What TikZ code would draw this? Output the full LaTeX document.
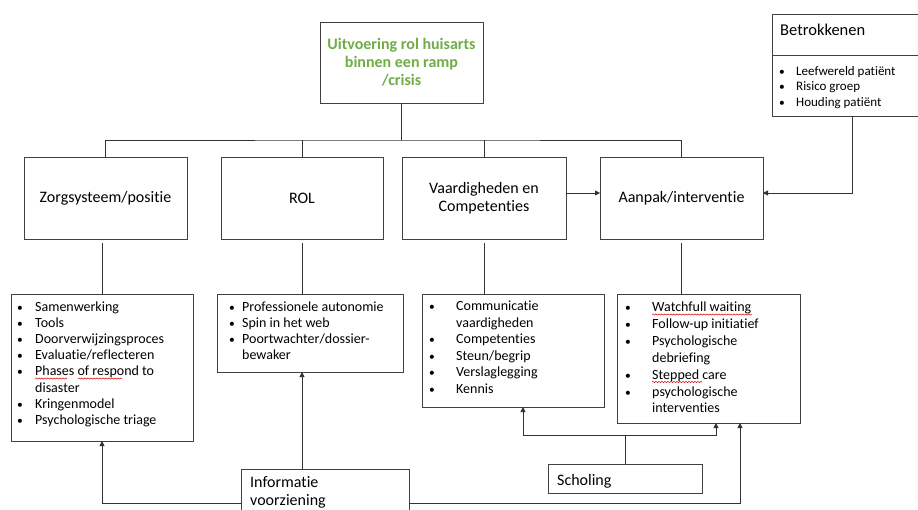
\documentclass[tikz,border=0pt]{standalone}
\usepackage{fontspec}
\setmainfont{Carlito}[Ligatures={NoCommon}]
\usetikzlibrary{arrows.meta,decorations.pathmorphing,calc}
\definecolor{titlegreen}{RGB}{112,173,71}
\definecolor{edgegray}{RGB}{64,64,64}
\begin{document}
\begin{tikzpicture}[x=1pt,y=-1pt,
  box/.style={draw=edgegray, line width=0.9pt, inner sep=0pt, outer sep=0pt, fill=white},
  lbl/.style={font=\fontsize{16}{18}\selectfont, align=center},
  lst/.style={font=\fontsize{14}{16}\selectfont, inner sep=0pt},
  dotmark/.style={font=\fontsize{11.5}{14}\selectfont, inner sep=0pt},
  smalllst/.style={font=\fontsize{13}{15}\selectfont, inner sep=0pt},
  conn/.style={draw=black!80, line width=0.8pt},
  arr/.style={conn, -{Triangle[length=5pt,width=5pt]}},
  wavy/.style={draw=red!85!black, line width=0.5pt, decorate,
    decoration={snake, segment length=3pt, amplitude=0.6pt}}]
\useasboundingbox (0,0) rectangle (918,509);
\clip (0,0) rectangle (918,509);
\fill[white] (0,0) rectangle (918,509);

% top
\node[box, minimum width=163pt, minimum height=81pt, align=center, text=titlegreen,
      font=\bfseries\fontsize{16}{18}\selectfont] (top) at (401.5,62.5)
      {Uitvoering rol huisarts\\binnen een ramp\\/crisis};

% middle row
\node[box, lbl, minimum width=163pt, minimum height=82pt] (zorg) at (105.5,198) {Zorgsysteem/positie};
\node[box, lbl, minimum width=162pt, minimum height=82pt] (rol) at (302,198) {ROL};
\node[box, lbl, minimum width=164pt, minimum height=82pt] (vaard) at (484,198) {Vaardigheden en\\Competenties};
\node[box, lbl, minimum width=163pt, minimum height=82pt] (aanpak) at (681.5,198) {Aanpak/interventie};

% Betrokkenen
\node[box, minimum width=148pt, minimum height=102pt] (bet) at (846,65) {};
\draw[draw=edgegray, line width=0.9pt] (bet.west |- 0,55) -- (bet.east |- 0,55);
\node[anchor=base west, inner sep=0pt, font=\fontsize{16.5}{18}\selectfont] (bettitle) at (780,35.5) {Betrokkenen};
\foreach \t [count=\i] in {{Leefwereld patiënt},{Risico groep},{Houding patiënt}} {
  \node[dotmark, anchor=base] (betd\i) at (782,{75+(\i-1)*15.7}) {•};
  \node[smalllst, anchor=base west] (bett\i) at (796,{75+(\i-1)*15.7}) {\t};
}

% list boxes
\node[box, minimum width=182pt, minimum height=147pt] (b1) at (102,367.5) {};
\node[box, minimum width=186pt, minimum height=78pt] (b2) at (310,333) {};
\node[box, minimum width=182pt, minimum height=113pt] (b3) at (513,350.5) {};
\node[box, minimum width=183pt, minimum height=129pt] (b4) at (708.5,358.5) {};

\foreach \t/\bu [count=\i] in {{Samenwerking}/1,{Tools}/1,{Doorverwijzingsproces}/1,
    {Evaluatie/reflecteren}/1,{Phases of respond to}/1,{disaster}/0,{Kringenmodel}/1,
    {Psychologische triage}/1} {
  \ifnum\bu=1 \node[dotmark, anchor=base] (b1d\i) at (20,{311+(\i-1)*16.2}) {•}; \fi
  \node[lst, anchor=base west] (b1t\i) at (35,{311+(\i-1)*16.2}) {\t};
}
\foreach \t/\bu [count=\i] in {{Professionele autonomie}/1,{Spin in het web}/1,
    {Poortwachter/dossier-}/1,{bewaker}/0} {
  \ifnum\bu=1 \node[dotmark, anchor=base] (b2d\i) at (232,{311.5+(\i-1)*16}) {•}; \fi
  \node[lst, anchor=base west] (b2t\i) at (242,{311.5+(\i-1)*16}) {\t};
}
\foreach \t/\bu [count=\i] in {{Communicatie}/1,{vaardigheden}/0,{Competenties}/1,
    {Steun/begrip}/1,{Verslaglegging}/1,{Kennis}/1} {
  \ifnum\bu=1 \node[dotmark, anchor=base] (b3d\i) at (432,{310.5+(\i-1)*16.5}) {•}; \fi
  \node[lst, anchor=base west] (b3t\i) at (456,{310.5+(\i-1)*16.5}) {\t};
}
\foreach \t/\bu [count=\i] in {{Watchfull waiting}/1,{Follow-up initiatief}/1,
    {Psychologische}/1,{debriefing}/0,{Stepped care}/1,{psychologische}/1,{interventies}/0} {
  \ifnum\bu=1 \node[dotmark, anchor=base] (b4d\i) at (628,{311.5+(\i-1)*16.9}) {•}; \fi
  \node[lst, anchor=base west] (b4t\i) at (652,{311.5+(\i-1)*16.9}) {\t};
}

% spell-check underlines
\draw[wavy] (35,378.5) -- (67,378.5);
\draw[wavy] (78,378.5) -- (122,378.5);
\draw[wavy] (652,314.5) -- (752,314.5);
\draw[wavy] (652,382) -- (702,382);

% bottom boxes
\node[box, minimum width=168pt, minimum height=68pt] (info) at (325,503) {};
\node[anchor=base west, inner sep=0pt, font=\fontsize{16}{18}\selectfont] (infot1) at (250,487.5) {Informatie};
\node[anchor=base west, inner sep=0pt, font=\fontsize{16}{18}\selectfont] (infot2) at (250,505.5) {voorziening};
\node[box, minimum width=154pt, minimum height=29pt] (sch) at (625,478.5) {};
\node[anchor=base west, inner sep=0pt, font=\fontsize{16}{18}\selectfont] (scht) at (557,485) {Scholing};

% connectors
\draw[conn] (top.south) -- (top.south |- 0,140) coordinate (bus);
\draw[conn] (zorg.north) |- (bus) -| (aanpak.north);
\draw[conn] (rol.north) -- (rol.north |- bus);
\draw[conn] (vaard.north) -- (vaard.north |- bus);

\draw[conn] (b1.north) -- ([yshift=-4pt]b1.north |- zorg.south);
\draw[conn] (rol.south |- b2.north) -- ([yshift=-4pt]rol.south);
\draw[conn] (vaard.south |- b3.north) -- ([yshift=-4pt]vaard.south);
\draw[conn] (aanpak.south |- b4.north) -- ([yshift=-4pt]aanpak.south);

\draw[arr] ([yshift=5pt]vaard.east) -- ([yshift=5pt]aanpak.west);
\draw[arr] ([xshift=6pt]bet.south) |- ([yshift=5pt]aanpak.east);

\draw[arr] (info.west) -| (b1.south);
\draw[arr] (info.north -| rol.south) -- (b2.south -| rol.south);
\draw[arr] (info.east) -| ([xshift=31.5pt]b4.south);

\coordinate (sj) at (625,435);
\draw[conn] (sch.north) -- (sj);
\draw[arr] (sj) -| ([xshift=10pt]b3.south);
\draw[arr] (sj) -| ([xshift=7.5pt]b4.south);
\end{tikzpicture}
\end{document}
